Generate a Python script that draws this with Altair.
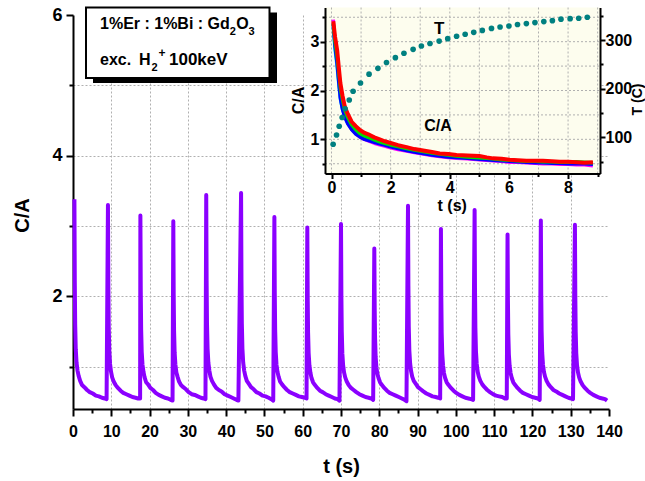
import altair as alt
import pandas as pd

FONT = "Liberation Sans"
PURPLE = "#8b00ff"

# ---------------- main trace (C/A vs t) ----------------
peak_t = [0.37, 9.13, 17.6, 26.2, 34.8, 43.9, 52.6, 61.2, 70.0, 78.7,
          87.5, 96.1, 104.9, 113.5, 122.2, 131.1]
peak_offsets = [0, 0.1, 0.2, 0.35, 0.55, 0.8, 1.1, 1.5, 2.0, 2.6, 3.3, 4.0,
                4.8, 5.6, 6.4, 7.2, 7.9, 8.4]
cycle_values = [
    [3.38, 2.19, 1.60, 1.25, 1.06, 0.95, 0.87, 0.80, 0.74, 0.71, 0.67, 0.64, 0.62, 0.59, 0.58, 0.56, 0.55, 0.54],
    [3.30, 2.15, 1.57, 1.23, 1.04, 0.93, 0.85, 0.79, 0.74, 0.70, 0.66, 0.63, 0.61, 0.59, 0.57, 0.56, 0.55, 0.55],
    [3.15, 2.07, 1.53, 1.21, 1.03, 0.93, 0.85, 0.78, 0.75, 0.70, 0.67, 0.63, 0.60, 0.58, 0.56, 0.55, 0.53, 0.52],
    [3.07, 2.03, 1.51, 1.20, 1.03, 0.92, 0.86, 0.79, 0.74, 0.71, 0.68, 0.64, 0.61, 0.60, 0.58, 0.56, 0.55, 0.54],
    [3.44, 2.22, 1.61, 1.26, 1.06, 0.95, 0.86, 0.80, 0.75, 0.70, 0.67, 0.65, 0.61, 0.59, 0.57, 0.55, 0.53, 0.52],
    [3.47, 2.24, 1.62, 1.26, 1.06, 0.95, 0.87, 0.80, 0.76, 0.71, 0.68, 0.64, 0.62, 0.59, 0.58, 0.56, 0.54, 0.52],
    [3.13, 2.06, 1.53, 1.21, 1.03, 0.93, 0.86, 0.79, 0.75, 0.71, 0.67, 0.64, 0.62, 0.60, 0.58, 0.57, 0.56, 0.55],
    [2.98, 1.99, 1.49, 1.19, 1.02, 0.92, 0.84, 0.78, 0.74, 0.70, 0.66, 0.64, 0.61, 0.59, 0.57, 0.55, 0.54, 0.52],
    [3.03, 2.01, 1.50, 1.19, 1.02, 0.92, 0.85, 0.79, 0.74, 0.70, 0.67, 0.64, 0.61, 0.59, 0.57, 0.56, 0.55, 0.53],
    [2.68, 1.84, 1.41, 1.14, 0.99, 0.90, 0.84, 0.78, 0.74, 0.70, 0.66, 0.63, 0.61, 0.59, 0.57, 0.55, 0.53, 0.51],
    [3.29, 2.15, 1.57, 1.23, 1.05, 0.94, 0.86, 0.80, 0.76, 0.71, 0.68, 0.65, 0.62, 0.60, 0.58, 0.57, 0.56, 0.55],
    [2.96, 1.98, 1.48, 1.18, 1.02, 0.91, 0.84, 0.78, 0.74, 0.70, 0.66, 0.63, 0.60, 0.58, 0.56, 0.55, 0.54, 0.53],
    [3.23, 2.11, 1.55, 1.22, 1.04, 0.93, 0.86, 0.80, 0.75, 0.71, 0.67, 0.64, 0.61, 0.59, 0.58, 0.57, 0.55, 0.55],
    [2.88, 1.94, 1.46, 1.17, 1.01, 0.91, 0.84, 0.78, 0.74, 0.70, 0.66, 0.63, 0.61, 0.59, 0.57, 0.56, 0.55, 0.53],
    [3.08, 2.04, 1.51, 1.20, 1.03, 0.93, 0.86, 0.80, 0.75, 0.71, 0.67, 0.65, 0.62, 0.60, 0.58, 0.56, 0.55, 0.54],
    [3.02, 2.01, 1.50, 1.19, 1.02, 0.92, 0.85, 0.79, 0.74, 0.70, 0.66, 0.63, 0.60, 0.58, 0.56, 0.55, 0.54, 0.52],
]
main_x_ticks = list(range(0, 141, 5))
main_y_ticks = [1, 2, 3, 4, 5, 6]
MAIN_X_DOMAIN = [0, 140]
MAIN_Y_DOMAIN = [0.4, 6]

# ---------------- inset: decay curves ----------------
inset_t = [0.06, 0.12, 0.19, 0.25, 0.30, 0.37, 0.45, 0.55, 0.68, 0.82, 0.96, 1.12, 1.29, 1.45,
           1.63, 1.80, 1.97, 2.25, 2.54, 2.80, 3.10, 3.40, 3.66, 3.95, 4.23, 4.60, 5.00, 5.25,
           5.46, 5.75, 6.03, 6.30, 6.59, 6.90, 7.15, 7.45, 7.72, 8.00, 8.28, 8.55, 8.84]
inset_magenta = [3.45, 2.95, 2.60, 2.20, 1.88, 1.65, 1.48, 1.34, 1.21, 1.12, 1.05, 1.00, 0.96, 0.92,
                 0.89, 0.86, 0.83, 0.79, 0.76, 0.73, 0.70, 0.67, 0.65, 0.63, 0.61, 0.60, 0.58, 0.57,
                 0.56, 0.55, 0.53, 0.53, 0.52, 0.51, 0.50, 0.50, 0.49, 0.49, 0.48, 0.48, 0.46]
inset_cyan = [3.30, 2.85, 2.50, 2.12, 1.83, 1.62, 1.47, 1.34, 1.22, 1.13, 1.07, 1.02, 0.98, 0.95,
              0.92, 0.89, 0.86, 0.82, 0.78, 0.75, 0.72, 0.69, 0.67, 0.65, 0.63, 0.62, 0.60, 0.59,
              0.58, 0.57, 0.56, 0.55, 0.54, 0.53, 0.53, 0.52, 0.52, 0.51, 0.51, 0.51, 0.50]
inset_blue = [3.35, 2.90, 2.55, 2.15, 1.85, 1.62, 1.45, 1.32, 1.20, 1.11, 1.05, 1.00, 0.97, 0.94,
              0.91, 0.88, 0.85, 0.81, 0.77, 0.74, 0.71, 0.68, 0.66, 0.64, 0.63, 0.61, 0.59, 0.58,
              0.57, 0.56, 0.55, 0.54, 0.53, 0.52, 0.52, 0.51, 0.51, 0.50, 0.50, 0.50, 0.49]
inset_green = [3.38, 3.00, 2.70, 2.35, 2.05, 1.82, 1.60, 1.45, 1.30, 1.20, 1.12, 1.07, 1.03, 0.99,
               0.95, 0.92, 0.89, 0.85, 0.81, 0.78, 0.75, 0.72, 0.70, 0.68, 0.66, 0.64, 0.62, 0.61,
               0.60, 0.58, 0.57, 0.56, 0.55, 0.55, 0.54, 0.54, 0.53, 0.53, 0.54, 0.53, 0.52]
inset_red = [3.42, 3.10, 2.83, 2.45, 2.15, 1.90, 1.67, 1.52, 1.36, 1.27, 1.19, 1.13, 1.09, 1.04,
             1.00, 0.96, 0.93, 0.88, 0.84, 0.80, 0.77, 0.74, 0.71, 0.70, 0.68, 0.67, 0.66, 0.63,
             0.61, 0.60, 0.58, 0.57, 0.56, 0.56, 0.56, 0.55, 0.54, 0.54, 0.53, 0.52, 0.53]

# ---------------- inset: temperature ----------------
temp_t = [0.055, 0.17, 0.26, 0.36, 0.46, 0.60, 0.73, 0.98, 1.27, 1.57, 1.86, 2.16, 2.45, 2.76,
          3.04, 3.33, 3.64, 3.93, 4.23, 4.52, 4.81, 5.10, 5.41, 5.70, 6.00, 6.29, 6.59, 6.88,
          7.18, 7.47, 7.76, 8.07, 8.36, 8.65]
temp_vals = [86, 105, 123, 141, 159, 177, 195, 212, 230, 242, 254, 264, 273, 281, 288, 293, 298,
             303, 308, 312, 316, 320, 324, 327, 329, 332, 334, 336, 338, 340, 343, 344, 345, 347]

inset_x_ticks = [0, 1, 2, 3, 4, 5, 6, 7, 8, 9]
inset_ca_ticks = [0.5, 1.0, 1.5, 2.0, 2.5, 3.0, 3.5]
inset_T_ticks = [50, 100, 150, 200, 250, 300, 350]
INSET_X_DOMAIN = [-0.22, 9.08]
INSET_CA_DOMAIN = [0.3, 3.7]
INSET_T_DOMAIN = [26, 367]

# ---------------- layout (pixels) ----------------
W, H = 536, 394
INSET_X_RANGE = [252, 527]
INSET_Y_RANGE = [158.5, -7.5]


def cond(test, a, b):
    return {"condition": {"test": test, "value": a}, "value": b}


def axis(**kw):
    base = dict(domainColor="black", domainWidth=2, tickColor="black", tickWidth=2,
                labelFont=FONT, labelFontWeight="bold", labelColor="black",
                labelOverlap=False, labelFlush=False,
                titleFont=FONT, titleFontWeight="bold", titleColor="black")
    base.update(kw)
    return alt.Axis(**base)


GRID = dict(gridColor="#b0b0b0", gridDash=[2, 2], gridWidth=1)

main_x_axis = axis(
    orient="bottom", values=main_x_ticks,
    labelExpr="datum.value % 10 === 0 ? format(datum.value, 'd') : ''",
    tickSize=cond("datum.value % 10 === 0", 7, 4),
    labelFontSize=16, labelPadding=7,
    grid=True, gridOpacity=cond("datum.value % 10 === 0 && datum.value > 0 && datum.value < 140", 1, 0),
    title="t (s)", titleFontSize=20, titleY=57, titleBaseline="middle", **GRID)
main_y_axis = axis(
    orient="left", values=main_y_ticks,
    labelExpr="datum.value % 2 === 0 ? format(datum.value, 'd') : ''",
    tickSize=cond("datum.value % 2 === 0", 7, 4),
    labelFontSize=18, labelPadding=4,
    grid=True, gridOpacity=cond("datum.value < 6", 1, 0),
    title="C/A", titleFontSize=20, titleX=-51, titleY=200, titleAngle=270,
    titleBaseline="middle", titleAlign="center", **GRID)

rows = []
for p, vals in zip(peak_t, cycle_values):
    for o, v in zip(peak_offsets, vals):
        rows.append({"t": round(p + o, 3), "ca": v})
main_df = pd.DataFrame(rows)

main_line = alt.Chart(main_df).mark_line(color=PURPLE, strokeWidth=4, strokeJoin="round").encode(
    x=alt.X("t:Q", scale=alt.Scale(domain=MAIN_X_DOMAIN, nice=False, zero=False), axis=main_x_axis),
    y=alt.Y("ca:Q", scale=alt.Scale(domain=MAIN_Y_DOMAIN, nice=False, zero=False), axis=main_y_axis),
)

# ---------------- inset ----------------
inset_x_axis = axis(
    orient="bottom", offset=-235.5, values=inset_x_ticks,
    labelExpr="datum.value % 2 === 0 ? format(datum.value, 'd') : ''",
    tickSize=cond("datum.value % 2 === 0", 5, 3),
    labelFontSize=16, labelPadding=1, grid=False, zindex=1,
    title="t (s)", titleFontSize=16, titleX=378.7, titleY=32, titleBaseline="middle", titleAlign="center")
inset_ca_axis = axis(
    orient="left", offset=-252, values=inset_ca_ticks,
    labelExpr="datum.value % 1 === 0 ? format(datum.value, 'd') : ''",
    tickSize=cond("datum.value % 1 === 0", 5, 3),
    labelFontSize=16, labelPadding=1, grid=False, zindex=1,
    title="C/A", titleFontSize=16, titleX=-27, titleY=85, titleAngle=270,
    titleBaseline="middle", titleAlign="center")
inset_T_axis = axis(
    orient="right", offset=-9, values=inset_T_ticks,
    labelExpr="datum.value % 100 === 0 ? format(datum.value, 'd') : ''",
    tickSize=cond("datum.value % 100 === 0", 5, 3),
    labelFontSize=16, labelPadding=0, grid=False, zindex=1,
    title="T (C)", titleFontSize=14, titleX=37, titleY=84, titleAngle=270,
    titleBaseline="middle", titleAlign="center")


def ix(field):
    return alt.X(field, scale=alt.Scale(domain=INSET_X_DOMAIN, range=INSET_X_RANGE, nice=False, zero=False),
                 axis=inset_x_axis)


def ica(field):
    return alt.Y(field, scale=alt.Scale(domain=INSET_CA_DOMAIN, range=INSET_Y_RANGE, nice=False, zero=False),
                 axis=inset_ca_axis)


def iT(field):
    return alt.Y(field, scale=alt.Scale(domain=INSET_T_DOMAIN, range=INSET_Y_RANGE, nice=False, zero=False),
                 axis=inset_T_axis)


bg_df = pd.DataFrame({"x0": [INSET_X_DOMAIN[0]], "x1": [INSET_X_DOMAIN[1]],
                      "y0": [INSET_CA_DOMAIN[0]], "y1": [INSET_CA_DOMAIN[1]]})
bg = alt.Chart(bg_df).mark_rect(fill="#fdfdee").encode(
    x=ix("x0:Q"), x2=alt.X2("x1"), y=ica("y0:Q"), y2=alt.Y2("y1"))

vgrid_df = pd.DataFrame({"gx": inset_x_ticks,
                         "y0": [INSET_CA_DOMAIN[0]] * len(inset_x_ticks),
                         "y1": [INSET_CA_DOMAIN[1]] * len(inset_x_ticks)})
vgrid = alt.Chart(vgrid_df).mark_rule(color="#b0b0b0", strokeDash=[2, 2], strokeWidth=1).encode(
    x=ix("gx:Q"), y=ica("y0:Q"), y2=alt.Y2("y1"))
hgrid_df = pd.DataFrame({"gy": inset_ca_ticks,
                         "x0": [INSET_X_DOMAIN[0]] * len(inset_ca_ticks),
                         "x1": [INSET_X_DOMAIN[1]] * len(inset_ca_ticks)})
hgrid = alt.Chart(hgrid_df).mark_rule(color="#b0b0b0", strokeDash=[2, 2], strokeWidth=1).encode(
    y=ica("gy:Q"), x=ix("x0:Q"), x2=alt.X2("x1"))

curves = []
for vals, col, sw in [(inset_magenta, "#ff00ff", 3.5), (inset_cyan, "#00e5ff", 3.5),
                      (inset_blue, "#0000ff", 3.5), (inset_green, "#00e000", 3.5),
                      (inset_red, "#ff0000", 4)]:
    df = pd.DataFrame({"t": inset_t, "ca": vals})
    curves.append(alt.Chart(df).mark_line(color=col, strokeWidth=sw, strokeJoin="round").encode(
        x=ix("t:Q"), y=ica("ca:Q")))

ca_label = alt.Chart(pd.DataFrame({"t": [3.6], "ca": [1.27]})).mark_text(
    text="C/A", font=FONT, fontSize=16, fontWeight="bold", color="black").encode(
    x=ix("t:Q"), y=ica("ca:Q"))

ca_layer = alt.layer(bg, vgrid, hgrid, *curves, ca_label)

temp_df = pd.DataFrame({"t": temp_t, "T": temp_vals})
tdots = alt.Chart(temp_df).mark_circle(color="#008080", size=32, opacity=1).encode(
    x=ix("t:Q"), y=iT("T:Q"))
t_label = alt.Chart(pd.DataFrame({"t": [3.64], "T": [322]})).mark_text(
    text="T", font=FONT, fontSize=17, fontWeight="bold", color="black").encode(
    x=ix("t:Q"), y=iT("T:Q"))
t_layer = alt.layer(tdots, t_label)

inset = alt.layer(ca_layer, t_layer).resolve_scale(y="independent")

# ---------------- annotation box ----------------
one = pd.DataFrame({"k": [0]})
shadow = alt.Chart(one).mark_rect(color="black").encode(
    x=alt.value(20), x2=alt.value(204), y=alt.value(-2.5), y2=alt.value(68))
box = alt.Chart(one).mark_rect(fill="white", stroke="black", strokeWidth=2).encode(
    x=alt.value(13), x2=alt.value(196.5), y=alt.value(-7.5), y2=alt.value(63))
box_pieces = [
    ("1%Er : 1%Bi : Gd", 27, 14, 16),
    ("2", 156.8, 19.5, 11),
    ("O", 163.2, 14, 16),
    ("3", 175.6, 19.5, 11),
    ("exc.", 27, 50, 16),
    ("H", 66, 50, 16),
    ("2", 78.5, 56, 11),
    ("+", 85.5, 42, 12),
    ("100keV", 96, 50, 17),
]
box_texts = [
    alt.Chart(one).mark_text(text=s, font=FONT, fontSize=fs, fontWeight="bold", color="black",
                             align="left", baseline="alphabetic").encode(x=alt.value(x), y=alt.value(y))
    for s, x, y, fs in box_pieces
]

chart = alt.layer(main_line, inset, shadow, box, *box_texts).resolve_scale(
    x="independent", y="independent"
).properties(
    width=W, height=H,
    padding={"left": 73, "top": 15, "right": 36, "bottom": 72},
    autosize=alt.AutoSizeParams(type="none"),
    background="white",
).configure_view(strokeWidth=0)

chart.save("out.html", embed_options={"renderer": "svg", "actions": False})
